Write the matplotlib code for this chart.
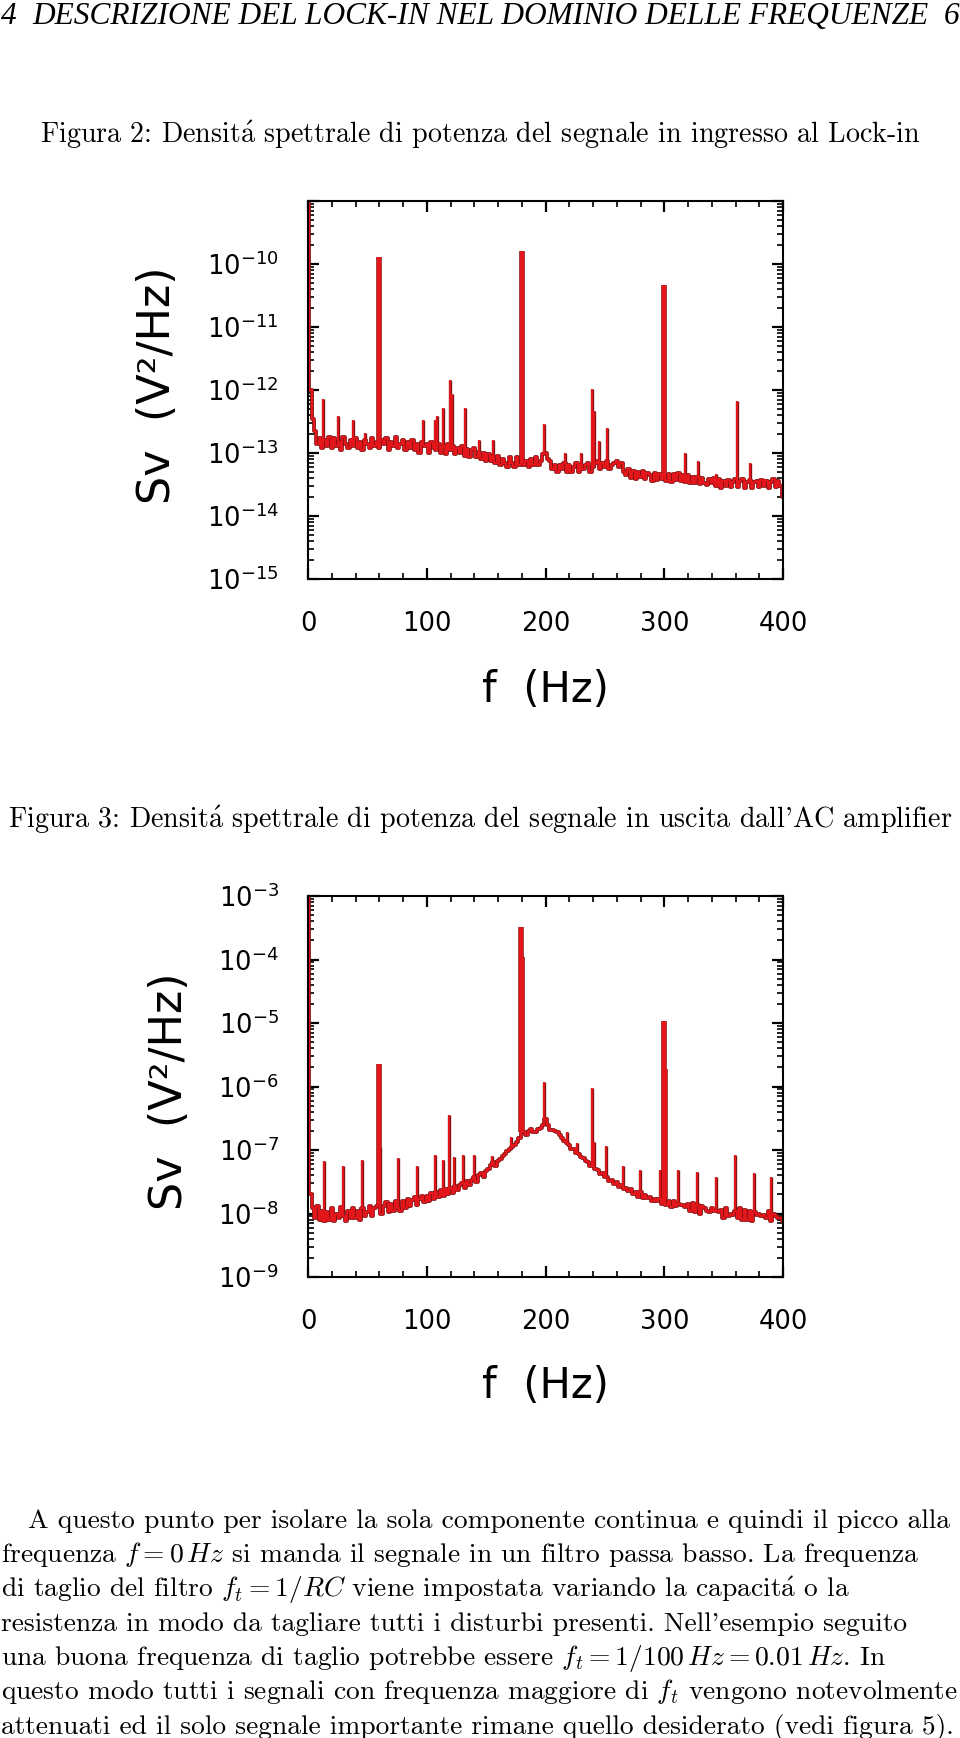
import numpy as np
import matplotlib
matplotlib.use("Agg")
import matplotlib.pyplot as plt
from matplotlib.ticker import MultipleLocator, LogLocator, NullFormatter

plt.rcParams['mathtext.fontset'] = 'dejavusans'
plt.rcParams['font.family'] = ['DejaVu Sans']

# ---------------- data ----------------
freq = np.arange(0, 401, 2)  # 2 Hz frequency grid (Hz)

# Figura 2: input spectrum baseline, units of 1e-14 V^2/Hz
s1_base = np.array([
    1e6, 100, 35, 22, 14, 17, 12, 16, 13, 18,
    12, 17, 13, 15, 11, 18, 14, 12, 16, 13,
    17, 12, 15, 11, 16, 14, 12, 17, 13, 15,
    12, 16, 14, 17, 11, 15, 13, 18, 12, 14,
    16, 11, 15, 12, 16, 11, 14, 10, 15, 13,
    14, 10, 15, 12, 11, 14, 10, 13, 9.5, 14,
    11, 13, 9.5, 12, 10, 13, 9, 11.5, 8.5, 11,
    12, 8.5, 10.5, 8, 10, 7.5, 9.5, 7.5, 9, 7,
    9, 6.5, 8, 7, 6, 8.5, 7, 6, 8.5, 6.5,
    8, 6.5, 7.5, 6, 8, 6.5, 8.5, 6.5, 7.5, 9.5,
    10, 8, 7.5, 5.5, 6.5, 5, 6.5, 5.5, 7, 5,
    6.5, 5, 6, 7, 5, 6.5, 5.5, 6.5, 7, 5,
    6, 7, 7.5, 5.5, 7, 6, 7.5, 5.5, 6.5, 7,
    7.5, 6, 7, 5, 4.5, 5.5, 4, 5.2, 3.8, 5,
    4.2, 5.2, 3.8, 4.8, 4.4, 3.6, 4.8, 3.7, 4.6, 3.8,
    4.5, 3.6, 4.6, 3.5, 4.7, 3.7, 4.8, 3.6, 4.5, 3.5,
    4.4, 3.4, 4.2, 3.3, 4.1, 3.2, 4.0, 3.4, 3.1, 3.9,
    3.3, 4.0, 3.0, 3.8, 2.8, 3.6, 3.0, 3.7, 2.9, 3.5,
    3.8, 2.9, 3.6, 3.9, 2.8, 3.5, 3.7, 2.8, 3.5, 3.6,
    2.9, 3.7, 3.0, 3.6, 2.8, 3.5, 3.8, 2.9, 3.6, 3.0,
    2.0]) * 1e-14

# Figura 2: spectral lines (Hz, V^2/Hz)
f1_peak = [13, 25.5, 37.5, 48, 60, 96.5, 107, 109, 114, 119.6, 121, 132, 144,
           156, 180, 199, 216.6, 229.5, 239.4, 241, 245, 251.7, 300, 317.6,
           328, 343.4, 361, 372, 385, 390.5]
s1_peak = [7.3e-13, 3.8e-13, 3.3e-13, 2.1e-13, 1.28e-10, 3.3e-13, 3.3e-13,
           3.8e-13, 5.1e-13, 1.46e-12, 8.5e-13, 5.1e-13, 1.6e-13, 1.6e-13,
           1.62e-10, 2.9e-13, 1.0e-13, 1.0e-13, 1.04e-12, 4.6e-13, 1.55e-13,
           2.5e-13, 4.7e-11, 1.0e-13, 7.4e-14, 4.7e-14, 6.6e-13, 7e-14,
           3.8e-14, 3.9e-14]

# Figura 3: AC amplifier output baseline, units of 1e-9 V^2/Hz
s2_base = np.array([
    1e7, 20, 12, 8.5, 13, 8, 11, 7.5, 10.5, 8,
    12, 7.5, 10, 8.5, 12.5, 9, 7.5, 11, 8.5, 12,
    8.5, 11, 8, 12, 9, 10.5, 13, 9, 12, 13,
    14, 10, 13, 15, 10.5, 14, 11, 15.5, 12, 11,
    16, 12, 17, 13, 16.5, 18, 13.5, 17, 19, 15,
    19, 16, 21, 17, 22, 18, 23.5, 19, 24, 20,
    25.5, 21, 27, 23.5, 28, 30, 25.5, 32, 28.5, 34,
    37, 31, 40, 43, 37, 47, 50, 58, 64, 55,
    68, 72, 80, 88, 95, 103, 112, 120, 135, 155,
    190, 195, 175, 200, 212, 195, 190, 215, 225, 250,
    310, 245, 210, 205, 200, 190, 170, 155, 138, 128,
    118, 102, 104, 90, 88, 78, 74, 66, 64, 56,
    57, 50, 49, 42, 43, 37, 37, 32, 34, 29,
    31, 26, 28, 24, 25.5, 23, 24, 20.5, 22, 18.5,
    22, 17.5, 19.5, 17.5, 18, 16, 17, 16, 17, 14,
    17, 13.5, 16, 12.5, 16, 13, 14, 13.5, 13.5, 12.5,
    14, 11, 14.5, 10.5, 13.5, 10, 13, 12, 11, 10.5,
    12, 11, 11, 10.5, 11.5, 8.5, 12, 9, 10, 9.5,
    11, 8.5, 12, 8, 11.5, 8, 11, 7.5, 10.5, 9.5,
    10, 9, 9.5, 8.5, 11, 7.5, 10, 9, 8.5, 8.5,
    7.5]) * 1e-9

f2_peak = [13.6, 29.4, 45.5, 59.5, 61, 75.7, 91.5, 107, 113.8, 118.8, 123,
           130.8, 139.5, 155, 170.8, 179.5, 180.5, 199, 218, 226.3, 238.8,
           240.9, 251, 265, 279.9, 296.8, 299.8, 301, 311.9, 327.4, 343.5,
           359.6, 375.2, 390]
s2_peak = [6.6e-8, 5.6e-8, 7e-8, 2.3e-6, 1.1e-7, 7.5e-8, 5.6e-8, 8.3e-8,
           7e-8, 3.5e-7, 7.8e-8, 8.3e-8, 8.3e-8, 8e-8, 1.6e-7, 3.2e-4,
           1.1e-4, 1.17e-6, 1.94e-7, 1.3e-7, 9.4e-7, 1.35e-7, 1.16e-7,
           5.5e-8, 4.9e-8, 4.9e-8, 1.06e-5, 1.9e-6, 4.9e-8, 4.5e-8, 3.8e-8,
           8.3e-8, 4.4e-8, 3.8e-8]

xticks = [0, 100, 200, 300, 400]
xtick_labels = ['0', '100', '200', '300', '400']
yticks1 = [1e-15, 1e-14, 1e-13, 1e-12, 1e-11, 1e-10, 1e-9]
ytick_labels1 = [r'$10^{-15}$', r'$10^{-14}$', r'$10^{-13}$', r'$10^{-12}$',
                 r'$10^{-11}$', r'$10^{-10}$', '']
yticks2 = [1e-9, 1e-8, 1e-7, 1e-6, 1e-5, 1e-4, 1e-3]
ytick_labels2 = [r'$10^{-9}$', r'$10^{-8}$', r'$10^{-7}$', r'$10^{-6}$',
                 r'$10^{-5}$', r'$10^{-4}$', r'$10^{-3}$']

header_left = "4"
header_title = "DESCRIZIONE DEL LOCK-IN NEL DOMINIO DELLE FREQUENZE"
header_right = "6"
caption2 = r"Figura 2: Densit$\mathrm{\acute{a}}$ spettrale di potenza del segnale in ingresso al Lock-in"
caption3 = r"Figura 3: Densit$\mathrm{\acute{a}}$ spettrale di potenza del segnale in uscita dall'AC amplifier"
body_lines = [
    "A questo punto per isolare la sola componente continua e quindi il picco alla",
    r"frequenza $f = 0\,Hz$ si manda il segnale in un filtro passa basso. La frequenza",
    r"di taglio del filtro $f_t = 1/RC$ viene impostata variando la capacit$\mathrm{\acute{a}}$ o la",
    "resistenza in modo da tagliare tutti i disturbi presenti. Nell'esempio seguito",
    r"una buona frequenza di taglio potrebbe essere $f_t = 1/100\,Hz = 0.01\,Hz$. In",
    r"questo modo tutti i segnali con frequenza maggiore di $f_t$ vengono notevolmente",
    "attenuati ed il solo segnale importante rimane quello desiderato (vedi figura 5).",
]

# ---------------- layout ----------------
W, H = 960, 1738
fig = plt.figure(figsize=(W / 100, H / 100), dpi=100)


def fx(x):
    return x / W


def fy(y):
    return 1 - y / H


RED = '#e3161b'
DARK = '#851212'


def spectrum(top, bottom, base, fpk, spk, yticks, ylabels, ylim):
    ax = fig.add_axes([fx(308), fy(bottom), fx(783) - fx(308), (bottom - top) / H])
    fpk = np.asarray(fpk)
    spk = np.asarray(spk)
    idx = np.clip(np.round(fpk / 2).astype(int), 0, len(base) - 1)
    foot = base[idx]
    lw = np.where(spk > 30 * foot, 3.0, 1.4)
    ax.plot(freq, base, drawstyle='steps-mid', color=DARK, lw=2.7)
    ax.vlines(fpk, foot, spk, color=DARK, lw=lw + 1.0)
    ax.plot(freq, base, drawstyle='steps-mid', color=RED, lw=1.5)
    ax.vlines(fpk, foot, spk, color=RED, lw=lw)
    ax.set_yscale('log')
    ax.set_xlim(0, 400)
    ax.set_ylim(*ylim)
    ax.set_xticks(xticks)
    ax.set_xticklabels(xtick_labels)
    ax.xaxis.set_minor_locator(MultipleLocator(20))
    ax.set_yticks(yticks)
    ax.set_yticklabels(ylabels)
    ax.yaxis.set_minor_locator(LogLocator(base=10, subs=np.arange(2, 10), numticks=100))
    ax.yaxis.set_minor_formatter(NullFormatter())
    ax.tick_params(which='both', direction='in', top=True, right=True,
                   colors='black', labelsize=18.5)
    ax.tick_params(which='major', length=8, width=1.6)
    ax.tick_params(which='minor', length=4.5, width=1.2)
    ax.tick_params(axis='x', pad=23)
    ax.tick_params(axis='y', pad=21)
    for sp in ax.spines.values():
        sp.set_linewidth(1.5)
        sp.set_color('black')
    return ax


ax1 = spectrum(201, 579, s1_base, f1_peak, s1_peak, yticks1, ytick_labels1, (1e-15, 1e-9))
ax2 = spectrum(896, 1277, s2_base, f2_peak, s2_peak, yticks2, ytick_labels2, (1e-9, 1e-3))

# axis labels
fig.text(fx(158), fy(385), 'Sv  (V²/Hz)', rotation=90, ha='center', va='center', fontsize=32)
fig.text(fx(545), fy(690), 'f  (Hz)', ha='center', va='center', fontsize=30)
fig.text(fx(170), fy(1091), 'Sv  (V²/Hz)', rotation=90, ha='center', va='center', fontsize=32)
fig.text(fx(545), fy(1386), 'f  (Hz)', ha='center', va='center', fontsize=30)

# page header
hdr = dict(family='Liberation Serif', style='italic', fontsize=22.6, va='baseline')
fig.text(fx(1), fy(24), header_left, ha='left', **hdr)
fig.text(fx(480), fy(24), header_title, ha='center', **hdr)
fig.text(fx(959), fy(24), header_right, ha='right', **hdr)

# captions
cap = dict(family='cmr10', fontsize=20.2, va='baseline', ha='center', math_fontfamily='cm')
fig.text(fx(480), fy(143), caption2, **cap)
fig.text(fx(480), fy(828), caption3, **cap)

# body text
body_y = [1528, 1562, 1597, 1631, 1665, 1699, 1734]
for i, (line, y) in enumerate(zip(body_lines, body_y)):
    x0 = 28 if i == 0 else 1
    fig.text(fx(x0), fy(y), line, family='cmr10', fontsize=19.8, ha='left',
             va='baseline', math_fontfamily='cm')

fig.savefig('out.png', dpi=100)
